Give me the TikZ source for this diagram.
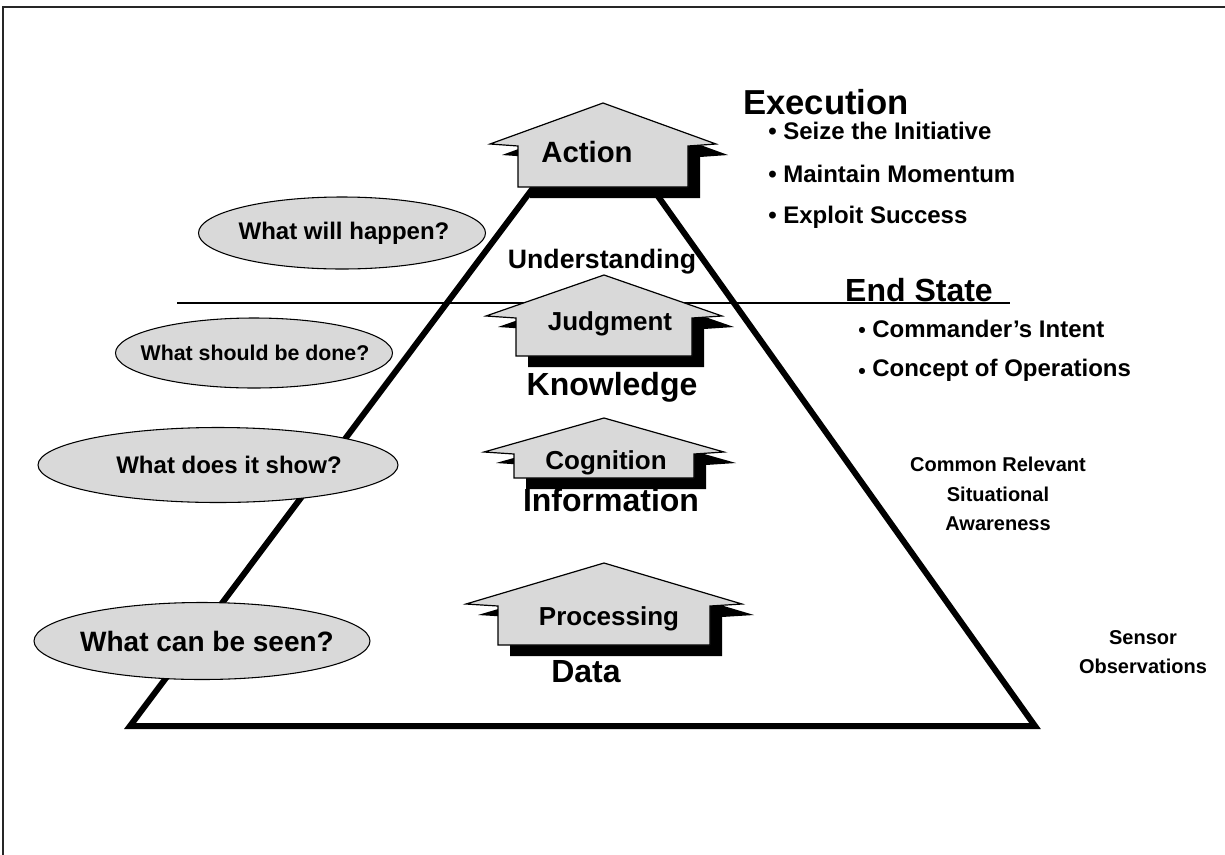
\documentclass[tikz,border=0pt]{standalone}
\usepackage{fontspec}
\setmainfont{Liberation Sans}
\definecolor{boxgray}{HTML}{D9D9D9}
\newcommand\fsz[1]{\fontsize{#1}{#1}\selectfont\bfseries}
% #1 cx, #2 apex y, #3 wing y, #4 half box width, #5 half wing width, #6 bottom y
\newcommand\housepath[6]{({#1-#4},{#6}) -- ({#1-#4},{#3+2}) -- ({#1-#5},{#3}) -- ({#1},{#2}) -- ({#1+#5},{#3}) -- ({#1+#4},{#3+2}) -- ({#1+#4},{#6}) -- cycle}
\newcommand\housearrow[6]{%
  \fill[black,shift={(12,11)}] \housepath{#1}{#2}{#3}{#4}{#5}{#6};
  \draw[housebox] \housepath{#1}{#2}{#3}{#4}{#5}{#6};
}
\begin{document}
\begin{tikzpicture}[x=0.75pt,y=-0.75pt,
  housebox/.style={fill=boxgray,draw=black,line width=0.9pt,line join=miter},
  bubble/.style={draw=black,fill=boxgray,line width=0.8pt},
  lbl/.style={inner sep=0pt,font=\fsz{18}},
  arrlbl/.style={inner sep=0pt,font=\fsz{19.5}},
  biglbl/.style={inner sep=0pt,font=\fsz{24}},
  small/.style={inner sep=0pt,font=\fsz{15},align=center}]
\useasboundingbox (0,0) rectangle (1225,854);
% frame
\draw[black!85,line width=1.6pt] (3,860) -- (3,7) -- (1230,7);
% pyramid (apex hidden under the Action arrow)
\coordinate (bl) at (130,726);
\coordinate (br) at (1035,726);
\coordinate (pl) at (569,140);
\coordinate (pr) at (618,140);
\draw[line width=4.5pt,line join=miter] (pl) -- (bl) -- (br) -- (pr);
% horizontal line
\coordinate (hl) at (177,303);
\coordinate (hr) at (1010,303);
\draw[line width=1.1pt] (hl) -- (hr);
% bubbles
\draw[bubble] (342,233) ellipse [x radius=143.5, y radius=36];
\draw[bubble] (254,353) ellipse [x radius=138.5, y radius=35];
\draw[bubble] (218,465) ellipse [x radius=180, y radius=37.5];
\draw[bubble] (202,641) ellipse [x radius=168, y radius=38.5];
\node[inner sep=0pt,font=\fsz{18}] (q1) at (344,233) {What will happen?};
\node[inner sep=0pt,font=\fsz{16}] (q2) at (255,353) {What should be done?};
\node[inner sep=0pt,font=\fsz{18}] (q3) at (229,465) {What does it show?};
\node[inner sep=0pt,font=\fsz{21}] (q4) at (207,641) {What can be seen?};
% house arrows
\housearrow{603}{103}{144}{85}{113}{187}
\housearrow{604}{275}{316}{88}{118}{356}
\housearrow{604}{418}{452}{90}{120}{478}
\housearrow{604}{563}{604}{106}{138}{645}
\node[inner sep=0pt,font=\fsz{22}] (action) at (587,152) {Action};
\node[arrlbl] (judg) at (610,324) {Judgment};
\node[arrlbl] (cogn) at (606,463) {Cognition};
\node[arrlbl] (proc) at (609,619) {Processing};
% level labels
\node[biglbl] (know) at (612,387) {Knowledge};
\node[biglbl] (info) at (611,500) {Information};
\node[biglbl] (data) at (586,672) {Data};
\node[inner sep=0pt,font=\fsz{20}] (und) at (602,262) {Understanding};
% right side
\node[inner sep=0pt,font=\fsz{26}] (exec) at (826,102) {Execution};
\node[lbl,anchor=west] (b1) at (768,131) {\textbullet\ Seize the Initiative};
\node[lbl,anchor=west] (b2) at (768,174) {\textbullet\ Maintain Momentum};
\node[lbl,anchor=west] (b3) at (768,217) {\textbullet\ Exploit Success};
\node[biglbl] (end) at (919,290) {End State};
\node[lbl,anchor=west] (c1) at (872,329) {Commander’s Intent};
\node[lbl,anchor=west] (c2) at (872,370) {Concept of Operations};
\node[inner sep=0pt,font=\fsz{16},anchor=east] (d1) at (866,332) {\textbullet};
\node[inner sep=0pt,font=\fsz{16},anchor=east] (d2) at (866,373) {\textbullet};
\node[small] (crsa) at (998,494) {Common Relevant\\[7pt]Situational\\[7pt]Awareness};
\node[small] (sens) at (1143,652) {Sensor\\[7pt]Observations};
\end{tikzpicture}
\end{document}
